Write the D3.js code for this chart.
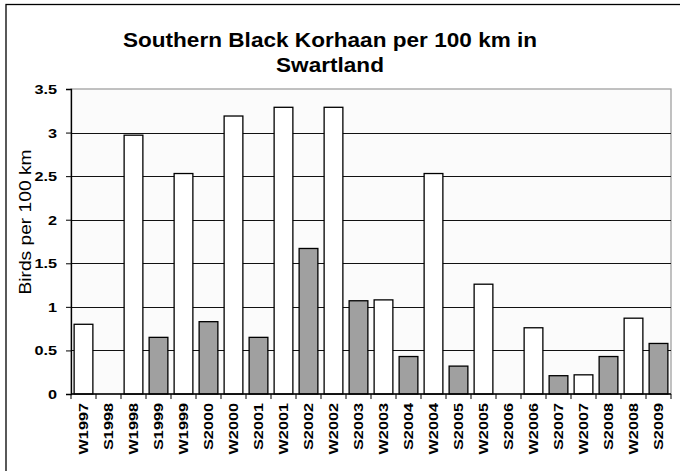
<!DOCTYPE html>
<html>
<head>
<meta charset="utf-8">
<script src="https://cdn.jsdelivr.net/npm/d3@7"></script>
<style>
  body { margin: 0; background: #fff; }
  svg { display: block; font-family: Arial, "Liberation Sans", sans-serif; }
</style>
</head>
<body>
<div id="chart"></div>
<script>
// survey labels (W = winter, S = summer)
var seasons = ["W1997","S1998","W1998","S1999","W1999","S2000","W2000","S2001","W2001","S2002",
               "W2002","S2003","W2003","S2004","W2004","S2005","W2005","S2006","W2006","S2007",
               "W2007","S2008","W2008","S2009"];
var birds = [0.80, 0, 2.97, 0.65, 2.53, 0.83, 3.19, 0.65, 3.29, 1.67,
             3.29, 1.07, 1.08, 0.43, 2.53, 0.32, 1.26, 0, 0.76, 0.21,
             0.22, 0.43, 0.87, 0.58];
var yTicks = [0, 0.5, 1, 1.5, 2, 2.5, 3, 3.5];
var titleLines = ["Southern Black Korhaan per 100 km in", "Swartland"];

var svgWidth = 680, svgHeight = 471;
var margin = {top: 89, right: 9, bottom: 77, left: 71};
var chartWidth = svgWidth - margin.left - margin.right;
var chartHeight = svgHeight - margin.top - margin.bottom;

var svg = d3.select("#chart").append("svg")
    .attr("width", svgWidth)
    .attr("height", svgHeight);

// outer frame
svg.append("rect")
    .attr("x", 6).attr("y", 4.5)
    .attr("width", 700).attr("height", 500)
    .attr("fill", "none").attr("stroke", "#000").attr("stroke-width", 1.3);

// title (text in the original is a bit wider than Arial)
svg.append("g")
    .attr("transform", "translate(330, 0) scale(1.13, 1)")
    .append("text")
    .attr("text-anchor", "middle")
    .attr("font-size", 20).attr("font-weight", "bold")
    .selectAll("tspan")
    .data(titleLines)
    .enter().append("tspan")
    .attr("x", 0)
    .attr("y", (d, i) => 47 + i * 25)
    .text(d => d);

var chartGroup = svg.append("g")
    .attr("transform", `translate(${margin.left}, ${margin.top})`);

var x = d3.scaleBand()
    .domain(seasons)
    .range([0, chartWidth])
    .paddingInner(0.25)
    .paddingOuter(0.125);

var y = d3.scaleLinear()
    .domain([0, 3.5])
    .range([chartHeight, 0]);

// plot area
chartGroup.append("rect")
    .attr("width", chartWidth).attr("height", chartHeight)
    .attr("fill", "#fbfbfb").attr("stroke", "#a0a0a0").attr("stroke-width", 1.3);

// gridlines
chartGroup.append("g")
    .selectAll("line")
    .data(yTicks.filter(t => t > 0 && t < 3.5))
    .enter().append("line")
    .attr("x1", 0).attr("x2", chartWidth)
    .attr("y1", d => Math.round(y(d)) + 0.5).attr("y2", d => Math.round(y(d)) + 0.5)
    .attr("stroke", "#111").attr("stroke-width", 1.2);

// bars
chartGroup.selectAll(".bar")
    .data(birds)
    .enter().append("rect")
    .attr("class", "bar")
    .attr("x", (d, i) => x(seasons[i]))
    .attr("y", d => y(d))
    .attr("width", x.bandwidth())
    .attr("height", d => chartHeight - y(d))
    .attr("fill", (d, i) => seasons[i][0] == "W" ? "#ffffff" : "#a0a0a0")
    .attr("stroke", "#000")
    .attr("stroke-width", d => d > 0 ? 1.3 : 0);

// y axis (labels drawn by hand so they can be widened)
var yAxis = d3.axisLeft(y).tickValues(yTicks).tickSize(5).tickFormat("");
var yg = chartGroup.append("g").call(yAxis);
yg.select(".domain").attr("stroke", "#000").attr("stroke-width", 1.3);
yg.selectAll(".tick line").attr("stroke", "#000");
chartGroup.append("g").selectAll("text")
    .data(yTicks)
    .enter().append("text")
    .attr("transform", d => `translate(-14, ${y(d) + 5}) scale(1.25, 1)`)
    .attr("text-anchor", "end")
    .attr("font-size", 13).attr("font-weight", "bold")
    .text(d3.format("~g"));

// x axis with ticks at the band edges
var edges = seasons.map((s, i) => i * chartWidth / seasons.length).concat([chartWidth]);
var xg = chartGroup.append("g").attr("transform", `translate(0, ${chartHeight})`);
xg.append("line")
    .attr("x1", 0).attr("x2", chartWidth)
    .attr("stroke", "#000").attr("stroke-width", 1.3);
xg.selectAll(".edge")
    .data(edges)
    .enter().append("line")
    .attr("class", "edge")
    .attr("x1", d => d).attr("x2", d => d)
    .attr("y1", 0).attr("y2", 5)
    .attr("stroke", "#000");
xg.selectAll(".lab")
    .data(seasons)
    .enter().append("text")
    .attr("class", "lab")
    .attr("transform", d => `translate(${x(d) + x.bandwidth() / 2 + 4.5}, 9) rotate(-90) scale(1.3, 1)`)
    .attr("text-anchor", "end")
    .attr("font-size", 12.5).attr("font-weight", "bold")
    .text(d => d);

// y axis title
svg.append("text")
    .attr("transform", `translate(31, 222) rotate(-90)`)
    .attr("text-anchor", "middle")
    .attr("font-size", 16)
    .attr("textLength", 145).attr("lengthAdjust", "spacingAndGlyphs")
    .text("Birds per 100 km");
</script>
</body>
</html>
